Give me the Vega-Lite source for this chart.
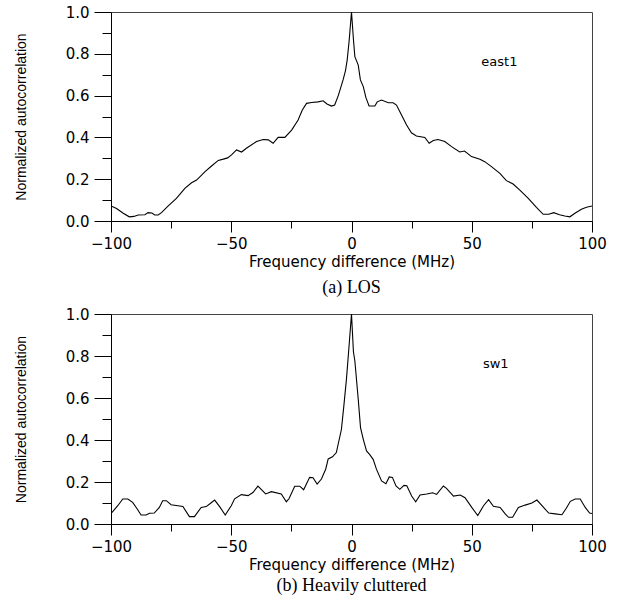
{
  "$schema": "https://vega.github.io/schema/vega-lite/v6.json",
  "padding": {"left": 13, "top": 4, "right": 5, "bottom": 2},
  "background": "white",
  "spacing": 8,
  "config": {
    "view": {"stroke": "#444", "strokeWidth": 1},
    "font": "DejaVu Sans",
    "axis": {"grid": false, "domainColor": "black", "tickColor": "black", "labelColor": "black", "titleColor": "black", "labelFont": "DejaVu Sans", "labelFontSize": 15, "labelFlush": false, "labelOverlap": false, "titleFontWeight": "normal"},
    "title": {"color": "black"}
  },
  "datasets": {
    "los": [
      {"f": -100, "v": 0.072}, {"f": -97.7, "v": 0.06}, {"f": -94.9, "v": 0.037}, {"f": -92.4, "v": 0.02}, {"f": -90.5, "v": 0.022},
      {"f": -88.7, "v": 0.029}, {"f": -85.9, "v": 0.03}, {"f": -84.6, "v": 0.04}, {"f": -83, "v": 0.038}, {"f": -81.8, "v": 0.029},
      {"f": -80.4, "v": 0.029}, {"f": -79, "v": 0.04}, {"f": -76.2, "v": 0.072}, {"f": -72.8, "v": 0.108}, {"f": -69.3, "v": 0.156},
      {"f": -66.5, "v": 0.183}, {"f": -64.4, "v": 0.196}, {"f": -60.9, "v": 0.236}, {"f": -58.2, "v": 0.263}, {"f": -55.4, "v": 0.29},
      {"f": -53.3, "v": 0.296}, {"f": -51.5, "v": 0.302}, {"f": -49.9, "v": 0.316}, {"f": -47.8, "v": 0.34}, {"f": -45.7, "v": 0.33},
      {"f": -43.7, "v": 0.348}, {"f": -39.5, "v": 0.38}, {"f": -36.7, "v": 0.39}, {"f": -34.6, "v": 0.388}, {"f": -32.6, "v": 0.372},
      {"f": -30.5, "v": 0.4}, {"f": -27.7, "v": 0.4}, {"f": -24.9, "v": 0.435}, {"f": -22.2, "v": 0.483}, {"f": -20.5, "v": 0.53},
      {"f": -18.7, "v": 0.563}, {"f": -16.6, "v": 0.567}, {"f": -13.9, "v": 0.57}, {"f": -11.8, "v": 0.575}, {"f": -10.2, "v": 0.56},
      {"f": -8.3, "v": 0.55}, {"f": -7.0, "v": 0.555}, {"f": -5.5, "v": 0.6}, {"f": -3.5, "v": 0.675}, {"f": -2.5, "v": 0.72},
      {"f": -1.8, "v": 0.77}, {"f": -1.0, "v": 0.86}, {"f": 0, "v": 1.0}, {"f": 0.8, "v": 0.87}, {"f": 1.4, "v": 0.786},
      {"f": 2.8, "v": 0.746}, {"f": 3.7, "v": 0.675}, {"f": 4.9, "v": 0.643}, {"f": 6.0, "v": 0.59}, {"f": 7.3, "v": 0.55},
      {"f": 9.7, "v": 0.55}, {"f": 10.7, "v": 0.57}, {"f": 12.5, "v": 0.579}, {"f": 15.3, "v": 0.566}, {"f": 17.3, "v": 0.566},
      {"f": 18.7, "v": 0.555}, {"f": 20.8, "v": 0.507}, {"f": 22.9, "v": 0.459}, {"f": 24.9, "v": 0.422}, {"f": 27.0, "v": 0.407},
      {"f": 30.5, "v": 0.4}, {"f": 32.3, "v": 0.372}, {"f": 34.0, "v": 0.385}, {"f": 36.0, "v": 0.39}, {"f": 38.8, "v": 0.38},
      {"f": 41.6, "v": 0.356}, {"f": 45.0, "v": 0.33}, {"f": 47.0, "v": 0.335}, {"f": 49.9, "v": 0.308}, {"f": 53.4, "v": 0.295},
      {"f": 55.4, "v": 0.284}, {"f": 58.2, "v": 0.26}, {"f": 61.7, "v": 0.228}, {"f": 64.4, "v": 0.193}, {"f": 67.2, "v": 0.177},
      {"f": 70.0, "v": 0.148}, {"f": 73.5, "v": 0.108}, {"f": 76.9, "v": 0.065}, {"f": 79.7, "v": 0.032}, {"f": 82.0, "v": 0.032},
      {"f": 84.1, "v": 0.04}, {"f": 86.5, "v": 0.03}, {"f": 88.7, "v": 0.024}, {"f": 90.8, "v": 0.02}, {"f": 92.9, "v": 0.037},
      {"f": 95.6, "v": 0.056}, {"f": 97.7, "v": 0.066}, {"f": 100, "v": 0.072}
    ],
    "clut": [
      {"f": -100, "v": 0.05}, {"f": -99.3, "v": 0.059}, {"f": -97.2, "v": 0.087}, {"f": -95.1, "v": 0.119}, {"f": -93.0, "v": 0.119},
      {"f": -91.0, "v": 0.103}, {"f": -89.3, "v": 0.075}, {"f": -87.5, "v": 0.043}, {"f": -85.4, "v": 0.043}, {"f": -84.0, "v": 0.051},
      {"f": -82.0, "v": 0.052}, {"f": -79.9, "v": 0.079}, {"f": -78.5, "v": 0.111}, {"f": -77.0, "v": 0.111}, {"f": -75.0, "v": 0.092},
      {"f": -72.2, "v": 0.087}, {"f": -70.1, "v": 0.083}, {"f": -67.4, "v": 0.035}, {"f": -65.3, "v": 0.035}, {"f": -62.5, "v": 0.079},
      {"f": -60.4, "v": 0.083}, {"f": -59.0, "v": 0.095}, {"f": -56.9, "v": 0.114}, {"f": -54.9, "v": 0.084}, {"f": -52.5, "v": 0.043},
      {"f": -50.0, "v": 0.087}, {"f": -48.6, "v": 0.12}, {"f": -45.8, "v": 0.14}, {"f": -43.0, "v": 0.135}, {"f": -41.0, "v": 0.15},
      {"f": -38.9, "v": 0.18}, {"f": -35.7, "v": 0.143}, {"f": -33.3, "v": 0.154}, {"f": -29.2, "v": 0.143}, {"f": -27.1, "v": 0.106},
      {"f": -26.0, "v": 0.12}, {"f": -23.6, "v": 0.18}, {"f": -21.5, "v": 0.18}, {"f": -19.9, "v": 0.163}, {"f": -17.4, "v": 0.222},
      {"f": -16.0, "v": 0.22}, {"f": -14.3, "v": 0.19}, {"f": -12.5, "v": 0.214}, {"f": -10.7, "v": 0.262}, {"f": -9.7, "v": 0.31},
      {"f": -7.9, "v": 0.32}, {"f": -6.3, "v": 0.34}, {"f": -4.2, "v": 0.45}, {"f": -3.2, "v": 0.56}, {"f": -2.1, "v": 0.69},
      {"f": -1.2, "v": 0.82}, {"f": 0, "v": 1.0}, {"f": 0.8, "v": 0.82}, {"f": 1.4, "v": 0.776}, {"f": 2.8, "v": 0.594},
      {"f": 3.75, "v": 0.459}, {"f": 4.9, "v": 0.403}, {"f": 6.25, "v": 0.348}, {"f": 7.6, "v": 0.33}, {"f": 9.0, "v": 0.308},
      {"f": 10.4, "v": 0.26}, {"f": 12.5, "v": 0.205}, {"f": 14.3, "v": 0.192}, {"f": 15.7, "v": 0.224}, {"f": 17.0, "v": 0.222},
      {"f": 18.5, "v": 0.181}, {"f": 20.1, "v": 0.165}, {"f": 21.8, "v": 0.184}, {"f": 23.0, "v": 0.182}, {"f": 25.0, "v": 0.133},
      {"f": 26.7, "v": 0.106}, {"f": 28.5, "v": 0.138}, {"f": 31.3, "v": 0.143}, {"f": 33.75, "v": 0.149}, {"f": 35.4, "v": 0.141},
      {"f": 38.2, "v": 0.181}, {"f": 39.5, "v": 0.17}, {"f": 42.4, "v": 0.133}, {"f": 45.2, "v": 0.138}, {"f": 47.2, "v": 0.125},
      {"f": 50.0, "v": 0.079}, {"f": 52.5, "v": 0.04}, {"f": 54.9, "v": 0.087}, {"f": 57.0, "v": 0.116}, {"f": 59.0, "v": 0.084},
      {"f": 61.8, "v": 0.079}, {"f": 63.9, "v": 0.048}, {"f": 65.3, "v": 0.032}, {"f": 67.0, "v": 0.032}, {"f": 69.4, "v": 0.079},
      {"f": 72.2, "v": 0.09}, {"f": 75.0, "v": 0.1}, {"f": 77.1, "v": 0.114}, {"f": 79.2, "v": 0.087}, {"f": 82.0, "v": 0.052},
      {"f": 84.7, "v": 0.048}, {"f": 87.5, "v": 0.044}, {"f": 89.3, "v": 0.075}, {"f": 91.0, "v": 0.108}, {"f": 93.0, "v": 0.119},
      {"f": 95.1, "v": 0.119}, {"f": 97.2, "v": 0.079}, {"f": 99.0, "v": 0.052}, {"f": 100, "v": 0.05}
    ]
  },
  "vconcat": [
    {
      "width": 481, "height": 209,
      "title": {"text": "(a) LOS", "orient": "bottom", "font": "Liberation Serif", "fontSize": 18, "fontWeight": "normal", "offset": 10},
      "layer": [
        {
          "data": {"name": "los"},
          "mark": {"type": "line", "color": "black", "strokeWidth": 1.1, "clip": true},
          "encoding": {
            "x": {"field": "f", "type": "quantitative", "scale": {"domain": [-100, 100], "nice": false},
              "axis": {"values": [-100, -50, 0, 50, 100], "tickSize": 11, "labelPadding": 4, "title": "Frequency difference (MHz)", "titleFont": "DejaVu Sans", "titleFontSize": 15, "titlePadding": 3}},
            "y": {"field": "v", "type": "quantitative", "scale": {"domain": [0, 1], "nice": false},
              "axis": {"values": [0, 0.2, 0.4, 0.6, 0.8, 1.0], "format": ".1f", "tickSize": 17, "labelPadding": 5, "title": "Normalized autocorrelation", "titleFont": "Liberation Sans", "titleFontSize": 14, "titlePadding": 37}}
          }
        },
        {
          "data": {"values": [{"f": 61.5, "v": 0.76, "label": "east1"}]},
          "mark": {"type": "text", "font": "DejaVu Sans", "fontSize": 13, "color": "black"},
          "encoding": {
            "x": {"field": "f", "type": "quantitative", "axis": {"orient": "bottom", "values": [-75, -25, 25, 75], "tickSize": 7, "labels": false, "domain": false, "title": null}},
            "y": {"field": "v", "type": "quantitative", "axis": {"orient": "left", "values": [0.1, 0.3, 0.5, 0.7, 0.9], "tickSize": 9, "labels": false, "domain": false, "title": null}},
            "text": {"field": "label"}
          }
        }
      ],
      "resolve": {"axis": {"x": "independent", "y": "independent"}}
    },
    {
      "width": 481, "height": 210,
      "title": {"text": "(b) Heavily cluttered", "orient": "bottom", "font": "Liberation Serif", "fontSize": 18, "fontWeight": "normal", "offset": 5},
      "layer": [
        {
          "data": {"name": "clut"},
          "mark": {"type": "line", "color": "black", "strokeWidth": 1.1, "clip": true},
          "encoding": {
            "x": {"field": "f", "type": "quantitative", "scale": {"domain": [-100, 100], "nice": false},
              "axis": {"values": [-100, -50, 0, 50, 100], "tickSize": 11, "labelPadding": 4, "title": "Frequency difference (MHz)", "titleFont": "DejaVu Sans", "titleFontSize": 15, "titlePadding": 3}},
            "y": {"field": "v", "type": "quantitative", "scale": {"domain": [0, 1], "nice": false},
              "axis": {"values": [0, 0.2, 0.4, 0.6, 0.8, 1.0], "format": ".1f", "tickSize": 17, "labelPadding": 5, "title": "Normalized autocorrelation", "titleFont": "Liberation Sans", "titleFontSize": 14, "titlePadding": 37}}
          }
        },
        {
          "data": {"values": [{"f": 60, "v": 0.76, "label": "sw1"}]},
          "mark": {"type": "text", "font": "DejaVu Sans", "fontSize": 13, "color": "black"},
          "encoding": {
            "x": {"field": "f", "type": "quantitative", "axis": {"orient": "bottom", "values": [-75, -25, 25, 75], "tickSize": 7, "labels": false, "domain": false, "title": null}},
            "y": {"field": "v", "type": "quantitative", "axis": {"orient": "left", "values": [0.1, 0.3, 0.5, 0.7, 0.9], "tickSize": 9, "labels": false, "domain": false, "title": null}},
            "text": {"field": "label"}
          }
        }
      ],
      "resolve": {"axis": {"x": "independent", "y": "independent"}}
    }
  ]
}
